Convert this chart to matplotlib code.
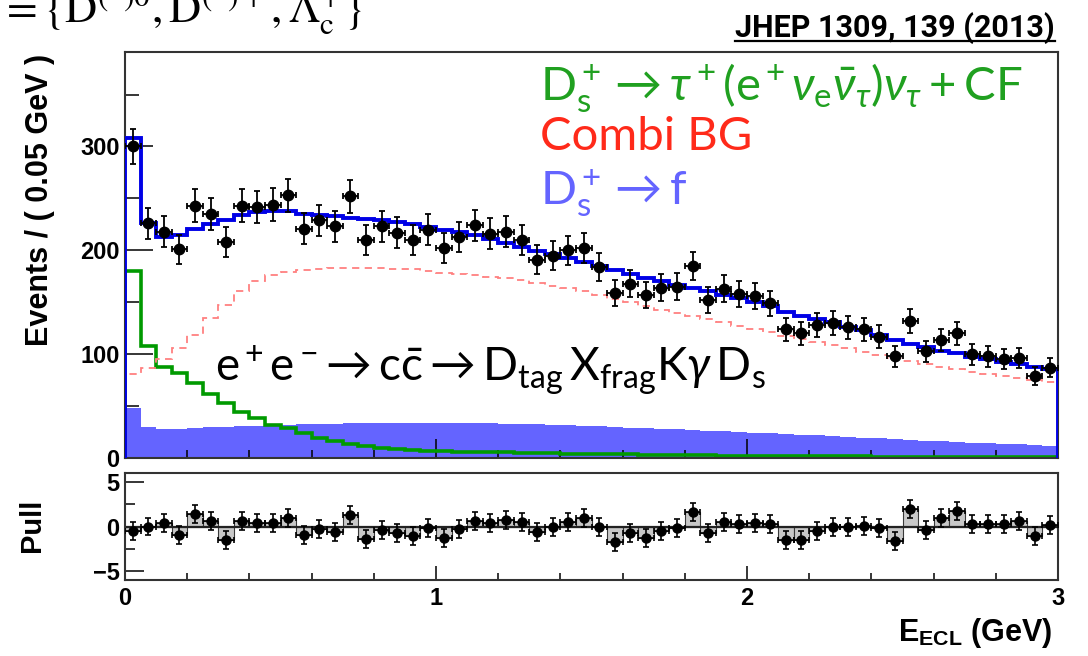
import numpy as np
import matplotlib
matplotlib.use('Agg')
import matplotlib.pyplot as plt
from matplotlib.ticker import MultipleLocator
from matplotlib.lines import Line2D

plt.rcParams['font.family'] = ['Liberation Sans', 'DejaVu Sans']
plt.rcParams['mathtext.fontset'] = 'custom'
plt.rcParams['mathtext.rm'] = 'Lato'
plt.rcParams['mathtext.it'] = 'Lato:italic'
plt.rcParams['mathtext.bf'] = 'Liberation Sans:bold'

# binning of E_ECL (GeV)
bin_width = 0.05
x_range = (0.0, 3.0)

# observed events per bin
data_counts = [300, 226, 218, 201, 243, 235, 208, 243, 242, 244,
               253, 221, 229, 223, 252, 210, 223, 217, 210, 220,
               202, 213, 224, 216, 218, 210, 191, 195, 200, 202,
               184, 159, 168, 157, 164, 165, 185, 152, 163, 158,
               156, 149, 124, 120, 128, 130, 126, 124, 117, 98,
               132, 103, 114, 120, 100, 98, 95, 96, 79, 87]

# total fit
fit_total = [308.6, 226, 213, 215, 220.5, 225, 229.5, 233.7, 236.6, 238,
             237.5, 235, 233.7, 232.7, 231, 230.5, 228.8, 227, 225, 222.4,
             220, 217.6, 215, 211, 207, 203, 199.6, 196.4, 192.6, 188.3,
             184.5, 180.6, 177, 173.3, 170, 166.8, 163.6, 160.4, 157, 154,
             150.7, 146, 141, 137, 134, 130.5, 126.6, 122.8, 118.3, 113.8,
             110, 106.7, 103.5, 101, 97.7, 95.2, 92.6, 90.4, 88, 85.5]

# Ds -> tau nu + CF
signal = [180, 108.3, 88, 81.7, 72, 61.4, 52.7, 44.7, 38.3, 31.8,
          28.6, 23.8, 19.6, 16.4, 13.5, 11.6, 10, 9, 8, 7.2,
          6.6, 6.2, 5.9, 5.6, 5.3, 5.0, 4.7, 4.5, 4.2, 4.0,
          3.8, 3.6, 3.4, 3.2, 3.0, 2.9, 2.7, 2.6, 2.4, 2.3,
          2.2, 2.1, 2.0, 1.9, 1.8, 1.7, 1.6, 1.5, 1.4, 1.35,
          1.3, 1.2, 1.15, 1.1, 1.0, 0.95, 0.9, 0.85, 0.8, 0.75]

# combinatorial background
combi_bg = [80.7, 86.5, 95.5, 105.8, 118.6, 134.7, 146.9, 160.4, 170, 175.8,
            179, 181, 182, 182.6, 183, 183, 183, 182.3, 181.7, 180.4,
            178, 177, 176, 174.5, 173, 171, 168.5, 166, 163.5, 160.5,
            157, 153.5, 150, 146.5, 143, 140, 137, 134, 131, 127.5,
            124, 121, 117.5, 114.5, 111.5, 108.5, 105.5, 102.5, 99.5, 96.5,
            93, 90.5, 88, 85.5, 83, 81, 79, 77, 75, 73]

# Ds -> f (other Ds decays)
ds_other = [48, 30.2, 27.7, 28.3, 29, 29.5, 30, 30.5, 31, 31.5,
            32, 32.3, 32.6, 33, 33.3, 33.5, 33.7, 33.9, 34, 34,
            34, 33.8, 33.6, 33.4, 33.1, 32.7, 32.3, 31.9, 31.4, 30.9,
            30.4, 29.9, 29.3, 28.7, 28.1, 27.5, 26.9, 26.3, 25.7, 25.1,
            24.5, 23.8, 23.1, 22.4, 21.7, 21.0, 20.3, 19.6, 18.9, 18.2,
            17.5, 16.8, 16.1, 15.5, 14.9, 14.3, 13.7, 13.1, 12.5, 12.0]

edges = x_range[0] + np.arange(len(data_counts) + 1) * bin_width
centers = edges[:-1] + bin_width / 2
data = np.array(data_counts, dtype=float)
err = np.sqrt(data)
pull = (data - np.array(fit_total)) / err

W, H = 1088, 656
fig = plt.figure(figsize=(W / 100, H / 100), dpi=100)


def box(l, t, r, b):
    return [l / W, 1 - b / H, (r - l) / W, (b - t) / H]


ax = fig.add_axes(box(125, 52, 1058, 458))
axp = fig.add_axes(box(125, 473, 1058, 580))

# main panel
ax.stairs(ds_other, edges, fill=True, color='#6464ff', zorder=1)
ax.stairs(signal, edges, color='#009a00', lw=2.6, zorder=2)
ax.stairs(combi_bg, edges, color='#ff8080', lw=1.3, ls=(0, (4, 3)), zorder=2)
ax.stairs(fit_total, edges, color='#0000e6', lw=2.8, zorder=3)
ax.errorbar(centers, data, yerr=err, xerr=bin_width / 2, fmt='o', color='black',
            ms=7.5, elinewidth=1.3, capsize=2.5, capthick=1.3, zorder=4)

ax.set_xlim(*x_range)
ax.set_ylim(0, 391)
ax.set_xticks([0, 1, 2, 3])
ax.xaxis.set_minor_locator(MultipleLocator(0.2))
ax.set_yticks([0, 100, 200, 300])
ax.yaxis.set_minor_locator(MultipleLocator(50))
ax.tick_params(axis='x', which='major', direction='in', length=13.5, width=1.1, labelbottom=False)
ax.tick_params(axis='x', which='minor', direction='in', length=5.8, width=1.1)
ax.tick_params(axis='y', which='major', direction='in', length=20, width=1.1, labelsize=17, pad=4)
ax.tick_params(axis='y', which='minor', direction='in', length=10, width=1.1)

# pull panel
axp.bar(centers, pull, width=bin_width, color='#c8c8c8', edgecolor='#3a3a3a', lw=0.8, zorder=1)
axp.axhline(0, color='#222222', lw=1.6, zorder=2)
axp.errorbar(centers, pull, yerr=1.0, xerr=bin_width / 2, fmt='o', color='black',
             ms=6.5, elinewidth=1.2, capsize=2.2, capthick=1.2, zorder=3)
axp.set_xlim(*x_range)
axp.set_ylim(-5.95, 5.95)
axp.set_xticks([0, 1, 2, 3])
axp.xaxis.set_minor_locator(MultipleLocator(0.2))
axp.set_yticks([-5, 0, 5])
axp.yaxis.set_minor_locator(MultipleLocator(2.5))
axp.tick_params(axis='x', which='major', direction='in', length=10, width=1.1, labelsize=17, pad=5)
axp.tick_params(axis='x', which='minor', direction='in', length=5, width=1.1)
axp.tick_params(axis='y', which='major', direction='in', length=13.5, width=1.1, labelsize=17, pad=4)
axp.tick_params(axis='y', which='minor', direction='in', length=7, width=1.1)

for a in (ax, axp):
    plt.setp(a.get_xticklabels() + a.get_yticklabels(), fontweight='bold')
    for s in a.spines.values():
        s.set_color('#333333')
        s.set_linewidth(1.5)

# axis titles
fig.text(40 / W, 1 - 54 / H, 'Events / ( 0.05 GeV )', rotation=90, ha='center', va='top',
         fontsize=22, weight='bold')
fig.text(32 / W, 1 - 525 / H, 'Pull', rotation=90, ha='center', va='center',
         fontsize=21, weight='bold')
fig.text(1052 / W, 1 - 641 / H, r'$\mathbf{E}_{\mathbf{ECL}}$ (GeV)', ha='right', va='baseline',
         fontsize=22, weight='bold')

# component labels
fig.text(540 / W, 1 - 100 / H,
         r'$\mathrm{D_s^+}\rightarrow\tau^+(\mathrm{e}^+\nu_\mathrm{e}\bar{\nu}_\tau)\nu_\tau+\mathrm{CF}$',
         color='#20a020', fontsize=34, va='baseline')
fig.text(540 / W, 1 - 150 / H, 'Combi BG', color='#ff2a1a', fontsize=34, va='baseline',
         family='Lato')
fig.text(540 / W, 1 - 205 / H, r'$\mathrm{D_s^+}\rightarrow\mathrm{f}$', color='#6464ff',
         fontsize=34, va='baseline')
fig.text(215 / W, 1 - 382 / H,
         r'$\mathrm{e^+e^-}\!\rightarrow\mathrm{c\bar{c}}\rightarrow\mathrm{D_{tag}\,X_{frag}K}\gamma\,\mathrm{D_s}$',
         color='black', fontsize=33, va='baseline')

# slide header fragments (cut by the top edge, as in the source slide)
fig.text(0, 1 - 22 / H, r'$=\{\mathrm{D}^{(*)0},\mathrm{D}^{(*)+},\Lambda_{\mathrm{c}}^{+}\}$',
         math_fontfamily='stix', fontsize=32, va='baseline')
ref = fig.text(1055 / W, 1 - 37 / H, 'JHEP 1309, 139 (2013)', ha='right', va='baseline',
               family=['Liberation Sans Narrow', 'Roboto'], weight='bold', fontsize=22)
fig.canvas.draw()
bb = ref.get_window_extent().transformed(fig.transFigure.inverted())
fig.add_artist(Line2D([bb.x0, bb.x1], [1 - 41 / H, 1 - 41 / H], transform=fig.transFigure,
                      color='black', lw=1.6))

fig.savefig('out.png', dpi=100)
